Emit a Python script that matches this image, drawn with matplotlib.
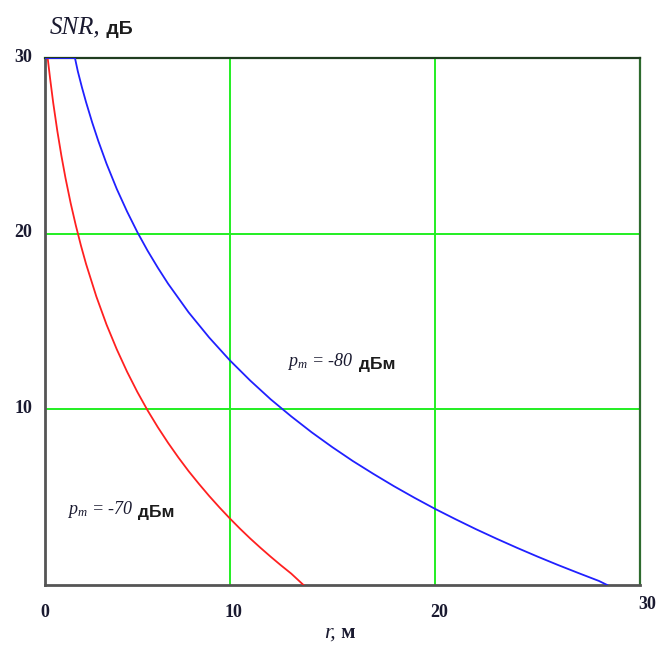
''' SNR versus distance for two received power levels (Mathcad-style plot). '''

import matplotlib
matplotlib.use("Agg")
import matplotlib.pyplot as plt

plt.rcParams['mathtext.fontset'] = 'custom'
plt.rcParams['mathtext.rm'] = 'Liberation Serif'
plt.rcParams['mathtext.it'] = 'Liberation Serif:italic'

# values
r_red = [1.0, 1.13, 1.25, 1.4, 1.6, 1.8, 2.0, 2.25, 2.5, 2.75, 3.0, 3.5, 4.0, 4.5, 5.0,
         5.5, 6.0, 6.5, 7.0, 7.5, 8.0, 8.5, 9.0, 9.5, 10.0, 10.5, 11.0, 11.5, 12.0,
         12.5, 13.0, 13.6]
snr_red = [30.0, 30.0, 28.82, 27.45, 25.85, 24.43, 23.16, 21.74, 20.48, 19.33, 18.28,
           16.43, 14.82, 13.41, 12.14, 10.99, 9.94, 8.98, 8.09, 7.26, 6.48, 5.76, 5.07,
           4.42, 3.8, 3.21, 2.65, 2.12, 1.61, 1.12, 0.65, 0.0]

r_blue = [1.0, 2.46, 2.6, 2.8, 3.0, 3.3, 3.6, 4.0, 4.5, 5.0, 5.5, 6.0, 6.5, 7.0, 8.0,
          9.0, 10.0, 11.0, 12.0, 13.0, 14.0, 15.0, 16.0, 17.0, 18.0, 19.0, 20.0, 21.0,
          22.0, 23.0, 24.0, 25.0, 26.0, 27.0, 28.0, 28.4]
snr_blue = [30.0, 30.0, 29.24, 28.33, 27.49, 26.33, 25.27, 23.98, 22.54, 21.26, 20.09,
            19.03, 18.06, 17.15, 15.52, 14.09, 12.8, 11.64, 10.57, 9.6, 8.69, 7.85, 7.06,
            6.33, 5.63, 4.97, 4.34, 3.75, 3.18, 2.64, 2.12, 1.62, 1.14, 0.68, 0.23, 0.0]

x_ticks = [1, 10, 20, 30]
x_tick_labels = ['0', '10', '20', '30']
y_ticks = [20, 30, 10]
y_tick_labels = ['20', '30', '10']

W, H = 657, 654
fig = plt.figure(figsize=(W / 100, H / 100), dpi=100)
ax = fig.add_axes([45 / W, 1 - 585 / H, (640 - 45) / W, (585 - 58) / H])

for x in (10, 20):
    ax.axvline(x, color='#22ee22', linewidth=1.4, zorder=1)
for y in (10, 20):
    ax.axhline(y, color='#22ee22', linewidth=1.4, zorder=1)

ax.plot(r_red, snr_red, color='#ff2020', linewidth=1.3, zorder=3)
ax.plot(r_blue, snr_blue, color='#2020ff', linewidth=1.3, zorder=3)

ax.set_xlim(1, 30)
ax.set_ylim(0, 30)
ax.set_xticks([])
ax.set_yticks([])

ax.spines['left'].set_color('#555555')
ax.spines['bottom'].set_color('#555555')
ax.spines['left'].set_linewidth(2.0)
ax.spines['bottom'].set_linewidth(2.0)
ax.spines['top'].set_color('#1f3d1f')
ax.spines['right'].set_color('#2e6b2e')
ax.spines['top'].set_linewidth(1.6)
ax.spines['right'].set_linewidth(1.6)

lbl = dict(fontsize=13, family='Liberation Serif', color='#1a1a30', fontweight='bold')
for xt, txt in zip(x_ticks, x_tick_labels):
    if txt == '30':
        ax.annotate(txt, xy=(xt, 0), xycoords=('data', 'axes fraction'),
                    xytext=(5, -14), textcoords='offset points',
                    ha='center', va='center', **lbl)
    else:
        ax.annotate(txt, xy=(xt, 0), xycoords=('data', 'axes fraction'),
                    xytext=(3 if txt != '0' else 0, -19.5), textcoords='offset points',
                    ha='center', va='center', **lbl)
for yt, txt in zip(y_ticks, y_tick_labels):
    ax.annotate(txt, xy=(0, yt), xycoords=('axes fraction', 'data'),
                xytext=(-9, 0.5), textcoords='offset points',
                ha='right', va='center', **lbl)

# axis titles, Mathcad style
t1 = fig.text(50 / W, 1 - 33 / H, 'SNR,', fontsize=18, family='Liberation Serif',
              style='italic', color='#1a1a30', va='baseline')
ax.annotate(' дБ', xy=(1, 0), xycoords=t1, va='bottom', fontsize=14,
            family='Liberation Sans', fontweight='bold', color='#1c1c1c')

t2 = fig.text(324 / W, 1 - 638 / H, 'r,', fontsize=16, family='Liberation Serif',
              style='italic', color='#1a1a30', va='baseline')
ax.annotate(' м', xy=(1, 0), xycoords=t2, va='bottom', fontsize=15,
            family='Liberation Serif', fontweight='bold', color='#1a1a30')

# curve labels
a1 = ax.text(12.8, 12.75, r'$p_m$ = -80', fontsize=13, family='Liberation Serif',
             style='italic', color='#1a1a30', va='center')
ax.annotate(' дБм', xy=(1, 0), xycoords=a1, va='bottom', fontsize=12.5,
            family='Liberation Sans', fontweight='bold', color='#1c1c1c')
a2 = ax.text(2.05, 4.27, r'$p_m$ = -70', fontsize=13, family='Liberation Serif',
             style='italic', color='#1a1a30', va='center')
ax.annotate(' дБм', xy=(1, 0), xycoords=a2, va='bottom', fontsize=12.5,
            family='Liberation Sans', fontweight='bold', color='#1c1c1c')

fig.savefig('out.png', dpi=100)
